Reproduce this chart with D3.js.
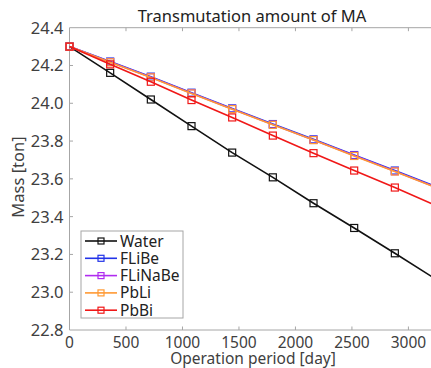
<!DOCTYPE html>
<html>
<head>
<meta charset="utf-8">
<script src="https://cdn.jsdelivr.net/npm/d3@7"></script>
<style>
  html, body { margin: 0; padding: 0; background: #fff; overflow: hidden; }
  text { font-family: "Noto Sans", "Open Sans", sans-serif; }
</style>
</head>
<body>
<div id="chart"></div>
<script>
// operation period [day]
const days = [0, 360, 720, 1080, 1440, 1800, 2160, 2520, 2880, 3240];

// mass of MA [ton]
const water   = [24.30, 24.161, 24.020, 23.879, 23.739, 23.608, 23.471, 23.340, 23.206, 23.070];
const flibe   = [24.30, 24.221, 24.141, 24.056, 23.973, 23.890, 23.809, 23.726, 23.644, 23.560];
const flinabe = [24.30, 24.218, 24.138, 24.053, 23.970, 23.887, 23.806, 23.723, 23.640, 23.556];
const pbli    = [24.30, 24.217, 24.137, 24.052, 23.969, 23.886, 23.805, 23.721, 23.639, 23.555];
const pbbi    = [24.30, 24.206, 24.114, 24.017, 23.925, 23.829, 23.736, 23.644, 23.554, 23.460];

const seriesNames = ["Water", "FLiBe", "FLiNaBe", "PbLi", "PbBi"];
const seriesValues = [water, flibe, flinabe, pbli, pbbi];
const colors = ["#111111", "#2233e8", "#b02cf0", "#ff9933", "#f01818"];

const xTicks = [0, 500, 1000, 1500, 2000, 2500, 3000];
const yTicks = [22.8, 23.0, 23.2, 23.4, 23.6, 23.8, 24.0, 24.2, 24.4];

const width = 431, height = 368;
const margin = {top: 27.7, left: 69.5, bottom: 330};

const svg = d3.select("#chart").append("svg")
  .attr("width", width)
  .attr("height", height);

const x = d3.scaleLinear().domain([0, 3200]).range([margin.left, 431]);
const y = d3.scaleLinear().domain([22.8, 24.4]).range([margin.bottom, margin.top]);

const axisColor = "#a6a6a6";
const labelColor = "#404040";

// axis lines (left, bottom, top)
svg.append("path")
  .attr("d", `M${width + 2},${margin.top}H${margin.left}V${margin.bottom}H${width + 2}`)
  .attr("fill", "none")
  .attr("stroke", axisColor)
  .attr("stroke-width", 1);

// ticks, pointing inward
svg.append("g").selectAll("line")
  .data(xTicks.filter(d => d > 0))
  .enter().append("line")
  .attr("x1", d => x(d)).attr("x2", d => x(d))
  .attr("y1", margin.bottom).attr("y2", margin.bottom - 3.5)
  .attr("stroke", axisColor);

svg.append("g").selectAll("line")
  .data(xTicks.filter(d => d > 0))
  .enter().append("line")
  .attr("x1", d => x(d)).attr("x2", d => x(d))
  .attr("y1", margin.top).attr("y2", margin.top + 3.5)
  .attr("stroke", axisColor);

svg.append("g").selectAll("line")
  .data(yTicks.slice(1, -1))
  .enter().append("line")
  .attr("x1", margin.left).attr("x2", margin.left + 3.5)
  .attr("y1", d => y(d)).attr("y2", d => y(d))
  .attr("stroke", axisColor);

// tick labels
svg.append("g").selectAll("text")
  .data(xTicks)
  .enter().append("text")
  .attr("x", d => x(d))
  .attr("y", 348)
  .attr("text-anchor", "middle")
  .attr("font-size", 15.5)
  .attr("fill", labelColor)
  .text(d => d);

svg.append("g").selectAll("text")
  .data(yTicks)
  .enter().append("text")
  .attr("x", 63.5)
  .attr("y", d => y(d) + 6)
  .attr("text-anchor", "end")
  .attr("font-size", 16.5)
  .attr("fill", labelColor)
  .text(d => d.toFixed(1));

// titles
svg.append("text")
  .attr("x", 252).attr("y", 22)
  .attr("text-anchor", "middle")
  .attr("font-size", 16.5)
  .attr("fill", "#222")
  .text("Transmutation amount of MA");

svg.append("text")
  .attr("x", 253).attr("y", 364)
  .attr("text-anchor", "middle")
  .attr("font-size", 15.5)
  .attr("fill", labelColor)
  .text("Operation period [day]");

svg.append("text")
  .attr("transform", "translate(24,177) rotate(-90)")
  .attr("text-anchor", "middle")
  .attr("font-size", 16.5)
  .attr("fill", labelColor)
  .text("Mass [ton]");

// series
const plot = svg.append("g");
const line = d3.line().x(d => x(d[0])).y(d => y(d[1]));

seriesValues.forEach((vals, i) => {
  const pts = days.map((d, j) => [d, vals[j]]);
  const g = plot.append("g");
  g.append("path")
    .attr("d", line(pts))
    .attr("fill", "none")
    .attr("stroke", colors[i])
    .attr("stroke-width", 1.6);
  g.selectAll("rect")
    .data(pts)
    .enter().append("rect")
    .attr("x", d => x(d[0]) - 3.5)
    .attr("y", d => y(d[1]) - 3.5)
    .attr("width", 7).attr("height", 7)
    .attr("fill", "none")
    .attr("stroke", colors[i])
    .attr("stroke-width", 1.2);
});

// legend
const legend = svg.append("g");
legend.append("rect")
  .attr("x", 81).attr("y", 231)
  .attr("width", 102).attr("height", 87)
  .attr("fill", "#fff")
  .attr("stroke", axisColor);

seriesNames.forEach((name, i) => {
  const ly = 241 + i * 17.3;
  legend.append("line")
    .attr("x1", 85).attr("x2", 117)
    .attr("y1", ly).attr("y2", ly)
    .attr("stroke", colors[i]).attr("stroke-width", 1.6);
  legend.append("rect")
    .attr("x", 101 - 3).attr("y", ly - 3)
    .attr("width", 6).attr("height", 6)
    .attr("fill", "none")
    .attr("stroke", colors[i]).attr("stroke-width", 1.2);
  legend.append("text")
    .attr("x", 120).attr("y", ly + 5.5)
    .attr("font-size", 15.5)
    .attr("fill", "#222")
    .text(name);
});
</script>
</body>
</html>
